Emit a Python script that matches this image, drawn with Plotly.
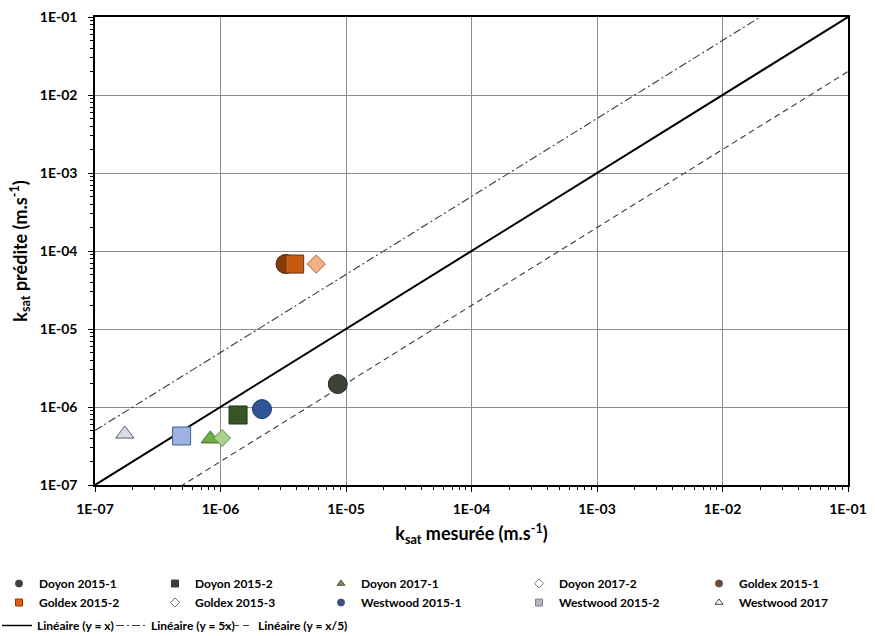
import plotly.graph_objects as go

# ---------------- data ----------------
series_names = ["Doyon 2015-1", "Doyon 2015-2", "Doyon 2017-1", "Doyon 2017-2", "Goldex 2015-1",
                "Goldex 2015-2", "Goldex 2015-3", "Westwood 2015-1", "Westwood 2015-2", "Westwood 2017"]
ksat_mesuree = [8.6e-6, 1.38e-6, 8.3e-7, 1.03e-6, 3.3e-6, 3.9e-6, 5.8e-6, 2.14e-6, 4.9e-7, 1.73e-7]
ksat_predite = [1.97e-6, 7.9e-7, 3.9e-7, 4.0e-7, 6.8e-5, 6.8e-5, 6.8e-5, 9.4e-7, 4.25e-7, 4.5e-7]

ref_x = [1e-7, 1e-1]
ref_y_x = [1e-7, 1e-1]        # y = x
ref_y_5x = [5e-7, 5e-1]       # y = 5x
ref_y_x5 = [2e-8, 2e-2]       # y = x/5
ref_names = ["Linéaire (y = x)", "Linéaire (y = 5x)", "Linéaire (y = x/5)"]

tick_vals = [1e-7, 1e-6, 1e-5, 1e-4, 1e-3, 1e-2, 1e-1]
tick_labels = ["1E-07", "1E-06", "1E-05", "1E-04", "1E-03", "1E-02", "1E-01"]

# ---------------- styles ----------------
symbols = ["circle", "square", "triangle-up", "diamond", "circle",
           "square", "diamond", "circle", "square", "triangle-up"]
fills = ["#3c4535", "#375623", "#70ad47", "#a9d18e", "#843c0c",
         "#c55a11", "#f4b183", "#2f5597", "#9db3e4", "#d6dce5"]
edges = ["#222822", "#1e3312", "#3f6b25", "#5d8a45", "#4a1f05",
         "#6e300a", "#a0663e", "#1c3566", "#4a5f8c", "#5a6270"]
sizes = [19, 18, 16, 13, 19, 18, 14, 19, 18, 16]
legend_fills = ["#3c4535", "#3c3c3c", "#7f8a66", "#ffffff", "#6b4a3a",
                "#e06010", "#ffffff", "#3a4f7a", "#b0b4c4", "#ffffff"]
legend_edges = ["#3c4535", "#3c3c3c", "#4f5a40", "#7f7f7f", "#6b4a3a",
                "#8a3a06", "#7f6a5a", "#3a4f7a", "#7f7f8f", "#404040"]
legend_sizes = [7, 7, 7, 7, 7, 7, 7, 7, 7, 7]

FONT = "Lato"
W, H = 875, 636
ml, mr, mt, mb = 95, 27, 17, 151
pw, ph = W - ml - mr, H - mt - mb

def px2x(px):
    return (px - ml) / pw

def py2y(py):
    return (mt + ph - py) / ph

DASHDOT = "8px,3px,2px,3px"
DASH = "6px,4px"

fig = go.Figure()

# reference lines
fig.add_trace(go.Scatter(x=ref_x, y=ref_y_5x, mode="lines",
                         line=dict(color="#3a3a3a", width=1.1, dash=DASHDOT),
                         showlegend=False, hoverinfo="skip"))
fig.add_trace(go.Scatter(x=ref_x, y=ref_y_x5, mode="lines",
                         line=dict(color="#3a3a3a", width=1.1, dash=DASH),
                         showlegend=False, hoverinfo="skip"))
fig.add_trace(go.Scatter(x=ref_x, y=ref_y_x, mode="lines",
                         line=dict(color="#000000", width=2),
                         showlegend=False, hoverinfo="skip"))

# data points
for i, name in enumerate(series_names):
    fig.add_trace(go.Scatter(
        x=[ksat_mesuree[i]], y=[ksat_predite[i]], mode="markers", name=name,
        marker=dict(symbol=symbols[i], size=sizes[i], color=fills[i],
                    line=dict(color=edges[i], width=1)),
        showlegend=False))

# legend entries (5 columns x 2 rows)
col_px = [20, 176, 342, 540, 720]
row_top_px = 569
for i, name in enumerate(series_names):
    col = i % 5
    fig.add_trace(go.Scatter(
        x=[None], y=[None], mode="markers", name=name,
        legend="legend" if col == 0 else f"legend{col + 1}",
        legendrank=i,
        marker=dict(symbol=symbols[i], size=legend_sizes[i], color=legend_fills[i],
                    line=dict(color=legend_edges[i], width=1)),
        showlegend=True))

line_px = [-3, 111, 218]
line_styles = [dict(color="#000000", width=1.5), dict(color="#404040", width=1, dash=DASHDOT),
               dict(color="#404040", width=1, dash=DASH)]
for j, name in enumerate(ref_names):
    fig.add_trace(go.Scatter(x=[None], y=[None], mode="lines", name=name,
                             legend=f"legend{6 + j}", line=line_styles[j], showlegend=True))

legend_font = dict(family=FONT, size=12, color="#000000", weight=700)
layout_legends = {}
for c in range(5):
    key = "legend" if c == 0 else f"legend{c + 1}"
    layout_legends[key] = dict(x=px2x(col_px[c] - 21), y=py2y(row_top_px), xanchor="left", yanchor="top",
                               orientation="v", font=legend_font, bgcolor="rgba(0,0,0,0)",
                               tracegroupgap=0, traceorder="normal")
for j in range(3):
    layout_legends[f"legend{6 + j}"] = dict(x=px2x(line_px[j]), y=py2y(611), xanchor="left", yanchor="top",
                                            orientation="v", font=legend_font, bgcolor="rgba(0,0,0,0)")

minor_vals = [m * 10.0 ** e for e in range(-7, -1) for m in range(2, 10)]

axis_common = dict(
    type="log", range=[-7, -1], tickmode="array", tickvals=tick_vals, ticktext=tick_labels,
    showgrid=True, gridcolor="#8c8c8c", gridwidth=1,
    showline=True, linecolor="#000000", linewidth=1.5, mirror=True,
    ticks="outside", ticklen=5, tickcolor="#000000",
    tickfont=dict(family=FONT, size=14, color="#000000", weight=700),
    minor=dict(tickmode="array", tickvals=minor_vals, ticks="outside", ticklen=3,
               tickcolor="#000000", showgrid=False),
    zeroline=False,
)

fig.update_layout(
    width=W, height=H,
    margin=dict(l=ml, r=mr, t=mt, b=mb, autoexpand=False),
    paper_bgcolor="#ffffff", plot_bgcolor="#ffffff",
    font=dict(family=FONT, color="#000000"),
    xaxis=dict(**axis_common, ticklabelstandoff=5,
               title=dict(text="k<sub>sat</sub> mesurée (m.s<sup>-1</sup>)",
                          font=dict(family=FONT, size=18, color="#000000", weight=700), standoff=12)),
    yaxis=dict(**axis_common, ticklabelstandoff=8,
               title=dict(text="k<sub>sat</sub> prédite (m.s<sup>-1</sup>)",
                          font=dict(family=FONT, size=18, color="#000000", weight=700), standoff=8)),
    **layout_legends,
)

fig.write_html("out.html", config={"displayModeBar": False},
               post_script="document.body.style.margin='0';document.body.style.padding='0';")
